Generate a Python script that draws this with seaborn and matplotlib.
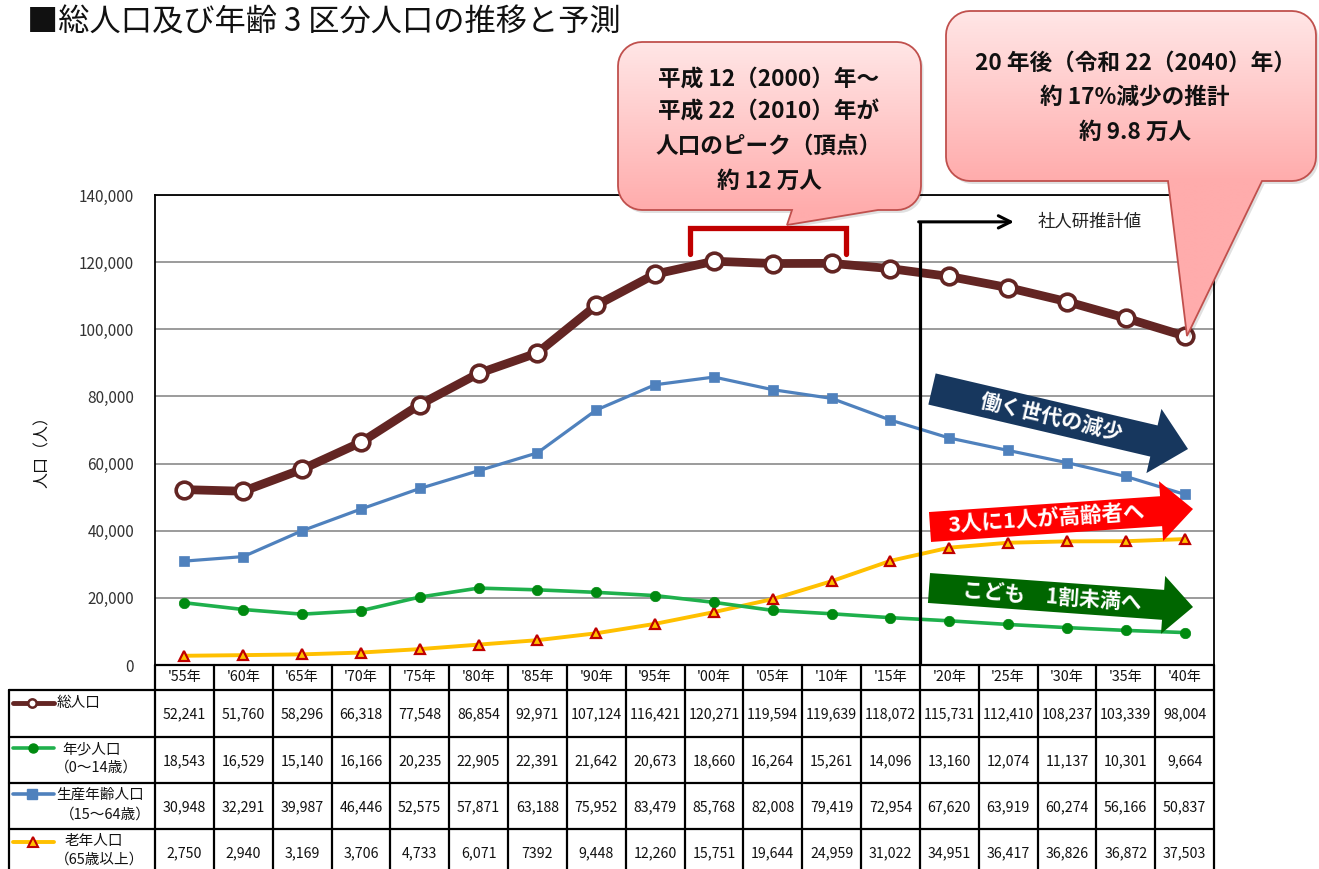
import numpy as np
import pandas as pd
import matplotlib
matplotlib.use("Agg")
import matplotlib.pyplot as plt
from matplotlib.patches import Polygon
import seaborn as sns

# ---------------- data ----------------
years = ["'55年", "'60年", "'65年", "'70年", "'75年", "'80年", "'85年", "'90年", "'95年",
         "'00年", "'05年", "'10年", "'15年", "'20年", "'25年", "'30年", "'35年", "'40年"]
total = [52241, 51760, 58296, 66318, 77548, 86854, 92971, 107124, 116421,
         120271, 119594, 119639, 118072, 115731, 112410, 108237, 103339, 98004]
young = [18543, 16529, 15140, 16166, 20235, 22905, 22391, 21642, 20673,
         18660, 16264, 15261, 14096, 13160, 12074, 11137, 10301, 9664]
working = [30948, 32291, 39987, 46446, 52575, 57871, 63188, 75952, 83479,
           85768, 82008, 79419, 72954, 67620, 63919, 60274, 56166, 50837]
elderly = [2750, 2940, 3169, 3706, 4733, 6071, 7392, 9448, 12260,
           15751, 19644, 24959, 31022, 34951, 36417, 36826, 36872, 37503]
elderly_plain = [6]  # printed without thousands separator in the source table

yticks = [0, 20000, 40000, 60000, 80000, 100000, 120000, 140000]
title = "■総人口及び年齢 3 区分人口の推移と予測"
ylabel = "人口（人）"
row_labels = [["総人口"], ["年少人口", "（0～14歳）"],
              ["生産年齢人口", "（15～64歳）"], ["老年人口", "（65歳以上）"]]
projection_start = 12.5
projection_top = 132000
projection_arrow_end = 14.1
projection_label = "社人研推計値"
peak_span = (8.6, 11.25)
peak_y = (122300, 130200)
callout1_lines = ["平成 12（2000）年～", "平成 22（2010）年が", "人口のピーク（頂点）", "約 12 万人"]
callout2_lines = ["20 年後（令和 22（2040）年）", "約 17%減少の推計", "約 9.8 万人"]
arrow_texts = ["働く世代の減少", "3人に1人が高齢者へ", "こども　1割未満へ"]

# colours
C_TOTAL = "#632523"
C_YOUNG_L, C_YOUNG_M = "#1fb04c", "#008a10"
C_WORK = "#4f81bd"
C_OLD, C_OLD_E = "#ffc000", "#c00000"

# ---------------- style ----------------
sns.set_theme(style="white")
plt.rcParams['font.family'] = ['Noto Sans CJK JP', 'DejaVu Sans']

W, H = 1319, 869
X0, X1, YT, YB = 155, 1214, 195, 665
fig = plt.figure(figsize=(W / 100, H / 100), dpi=100)
ax = fig.add_axes([X0 / W, 1 - YB / H, (X1 - X0) / W, (YB - YT) / H])

n = len(years)
df = pd.DataFrame({"pos": np.arange(n), "total": total, "young": young,
                   "working": working, "elderly": elderly})

sns.lineplot(data=df, x="pos", y="elderly", ax=ax, color=C_OLD, linewidth=2.8,
             marker="^", markersize=7.5, markerfacecolor=C_OLD,
             markeredgecolor=C_OLD_E, markeredgewidth=1.6, zorder=3)
sns.lineplot(data=df, x="pos", y="young", ax=ax, color=C_YOUNG_L, linewidth=2.6,
             marker="o", markersize=7.5, markerfacecolor=C_YOUNG_M,
             markeredgecolor=C_YOUNG_M, markeredgewidth=0.5, zorder=3)
sns.lineplot(data=df, x="pos", y="working", ax=ax, color=C_WORK, linewidth=2.3,
             marker="s", markersize=7, markerfacecolor=C_WORK,
             markeredgecolor=C_WORK, markeredgewidth=0.5, zorder=4)
sns.lineplot(data=df, x="pos", y="total", ax=ax, color=C_TOTAL, linewidth=6.3,
             marker="o", markersize=12, markerfacecolor="white",
             markeredgecolor=C_TOTAL, markeredgewidth=2.6, zorder=5)

ax.set_xlim(-0.5, n - 0.5)
ax.set_ylim(0, 140000)
ax.set_yticks(yticks)
ax.set_yticklabels([f"{v:,}" for v in yticks])
ax.set_xticks([])
ax.set_xlabel("")
ax.set_ylabel("")
ax.grid(axis="y", color="#8a8a8a", linewidth=1.2)
ax.grid(axis="x", visible=False)
ax.set_axisbelow(True)
for s in ax.spines.values():
    s.set_color("black")
    s.set_linewidth(1.3)
ax.tick_params(axis="y", length=0, pad=15, labelsize=11, labelcolor="#333333")

# projection marker
ax.plot([projection_start, projection_start], [0, projection_top], color="black",
        linewidth=2.3, zorder=6, solid_capstyle="butt")
ax.annotate("", xy=(projection_arrow_end, projection_top),
            xytext=(projection_start - 0.02, projection_top),
            arrowprops=dict(arrowstyle="->", color="black", lw=2.2,
                            mutation_scale=22, shrinkA=0, shrinkB=0), zorder=6)
ax.text(projection_arrow_end + 0.4, projection_top, projection_label,
        ha="left", va="center", fontsize=12.5, color="#222222")

# peak bracket
ax.plot([peak_span[0], peak_span[0], peak_span[1], peak_span[1]],
        [peak_y[0], peak_y[1], peak_y[1], peak_y[0]],
        color="#c00000", linewidth=3.8, zorder=6, solid_joinstyle="miter")

# y label and title
fig.text(42 / W, 1 - 448 / H, ylabel, rotation=90, ha="center", va="center",
         fontsize=11.5, color="#111111")
fig.text(27 / W, 1 - 23 / H, title, ha="left", va="center", fontsize=22.5, color="#111111")

# ---------------- overlay (pixel coords) ----------------
ov = fig.add_axes([0, 0, 1, 1], zorder=5)
ov.set_xlim(0, W)
ov.set_ylim(H, 0)
ov.axis("off")

# table
col_w = (X1 - X0) / n
rows_y = [665, 690, 737, 783, 829, 876]
LW = 1.6
ov.plot([X0, X1], [rows_y[0], rows_y[0]], color="black", lw=LW)
for yy in rows_y[1:-1]:
    ov.plot([9, X1], [yy, yy], color="black", lw=LW)
for k in range(n + 1):
    xx = X0 + k * col_w
    ov.plot([xx, xx], [rows_y[0], rows_y[-1]], color="black", lw=LW)
ov.plot([9, 9], [rows_y[1], rows_y[-1]], color="black", lw=LW)

series = [total, young, working, elderly]
for i, lab in enumerate(years):
    cx = X0 + (i + 0.5) * col_w
    ov.text(cx, (rows_y[0] + rows_y[1]) / 2, lab, ha="center", va="center",
            fontsize=10.2, color="#111111")
    for r, s in enumerate(series):
        v = s[i]
        txt = str(v) if (r == 3 and i in elderly_plain) else f"{v:,}"
        ov.text(cx, (rows_y[r + 1] + rows_y[r + 2]) / 2 + 1, txt, ha="center",
                va="center", fontsize=10.2, color="#111111")

# row legend samples
sample_y = [703, 748, 794, 842]
ov.plot([13, 54], [sample_y[0]] * 2, color=C_TOTAL, lw=3.5, solid_capstyle="round")
ov.plot([32], [sample_y[0]], marker="o", ms=6, mfc="white", mec=C_TOTAL, mew=1.8)
ov.plot([13, 54], [sample_y[1]] * 2, color=C_YOUNG_L, lw=2.6, solid_capstyle="round")
ov.plot([33], [sample_y[1]], marker="o", ms=6.5, mfc=C_YOUNG_M, mec=C_YOUNG_M)
ov.plot([13, 54], [sample_y[2]] * 2, color=C_WORK, lw=2.6, solid_capstyle="round")
ov.plot([32], [sample_y[2]], marker="s", ms=6.5, mfc=C_WORK, mec=C_WORK)
ov.plot([13, 54], [sample_y[3]] * 2, color=C_OLD, lw=2.8, solid_capstyle="round")
ov.plot([33], [sample_y[3]], marker="^", ms=6.5, mfc=C_OLD, mec=C_OLD_E, mew=1.5)

label_pos = [[(57, 703)], [(62, 749), (55, 768)], [(56, 795), (60, 815)], [(65, 841), (55, 860)]]
for labs, poss in zip(row_labels, label_pos):
    for t, (lx, ly) in zip(labs, poss):
        ov.text(lx, ly, t, ha="left", va="center", fontsize=10.5, color="#111111")


# callouts
def callout_path(x0, y0, x1, y1, r, ta, tb, tip, nseg=10):
    pts = []

    def arc(cx, cy, a0, a1):
        for a in np.linspace(np.radians(a0), np.radians(a1), nseg):
            pts.append((cx + r * np.cos(a), cy + r * np.sin(a)))
    pts.append((x0 + r, y0))
    pts.append((x1 - r, y0))
    arc(x1 - r, y0 + r, -90, 0)
    pts.append((x1, y1 - r))
    arc(x1 - r, y1 - r, 0, 90)
    pts.append((tb, y1))
    pts.append(tip)
    pts.append((ta, y1))
    arc(x0 + r, y1 - r, 90, 180)
    pts.append((x0, y0 + r))
    arc(x0 + r, y0 + r, 180, 270)
    return np.array(pts)


def draw_callout(box, tail, lines, cx, ys, fs):
    x0, y0, x1, y1 = box
    ta, tb, tip = tail
    pts = callout_path(x0, y0, x1, y1, 24, ta, tb, tip)
    ov.add_patch(Polygon(pts + np.array([2.5, 3.0]), closed=True, facecolor="#000000",
                         alpha=0.12, edgecolor="none", zorder=1.5))
    patch = Polygon(pts, closed=True, facecolor="none", edgecolor="#c0504d",
                    lw=1.3, zorder=3)
    ov.add_patch(patch)
    ybot = max(y1, tip[1])
    N = 200
    yy = np.linspace(y0, ybot, N)
    t = np.clip((yy - y0) / (y1 - y0), 0, 1)
    top = np.array([255, 230, 230]) / 255
    bot = np.array([255, 172, 172]) / 255
    img = (top[None, :] * (1 - t[:, None]) + bot[None, :] * t[:, None])[:, None, :]
    im = ov.imshow(img, extent=(x0, x1, ybot, y0), origin="upper", aspect="auto",
                   zorder=2, interpolation="bilinear")
    im.set_clip_path(patch)
    for line, yl in zip(lines, ys):
        ov.text(cx, yl, line, ha="center", va="center", fontsize=fs,
                fontweight="bold", color="#111111", zorder=4)


draw_callout((618, 42, 921, 210), (792, 878, (787, 225)), callout1_lines, 769,
             [79, 112, 146, 181], 16.3)
draw_callout((946, 11, 1316, 181), (1168, 1262, (1187, 336)), callout2_lines, 1135,
             [63, 97, 132], 16.3)


# block arrows
def block_arrow(tail, tip, hb, hh, hl, color, text, tpos_x, fs):
    t = np.array(tail, float)
    p = np.array(tip, float)
    d = p - t
    L = np.hypot(*d)
    u = d / L
    nv = np.array([-u[1], u[0]])
    base = p - u * hl
    pts = [t + nv * hb, base + nv * hb, base + nv * hh, p,
           base - nv * hh, base - nv * hb, t - nv * hb]
    ov.add_patch(Polygon(pts, closed=True, facecolor=color, edgecolor="none", zorder=6))
    ang = -np.degrees(np.arctan2(d[1], d[0]))
    ty = t[1] + (tpos_x - t[0]) * d[1] / d[0]
    ov.text(tpos_x, ty, text, rotation=ang, rotation_mode="anchor", ha="center",
            va="center", fontsize=fs, fontweight="bold", color="white", zorder=7)


block_arrow((932, 389), (1188, 449), 16, 33, 35, "#17375e", arrow_texts[0], 1052, 15)
block_arrow((930, 527), (1193, 509), 15, 30, 32, "#ff0000", arrow_texts[1], 1046, 15.5)
block_arrow((929, 588), (1193, 607), 15, 29, 30, "#006600", arrow_texts[2], 1052, 15)

ov.set_xlim(0, W)
ov.set_ylim(H, 0)

fig.savefig("out.png", dpi=100)
